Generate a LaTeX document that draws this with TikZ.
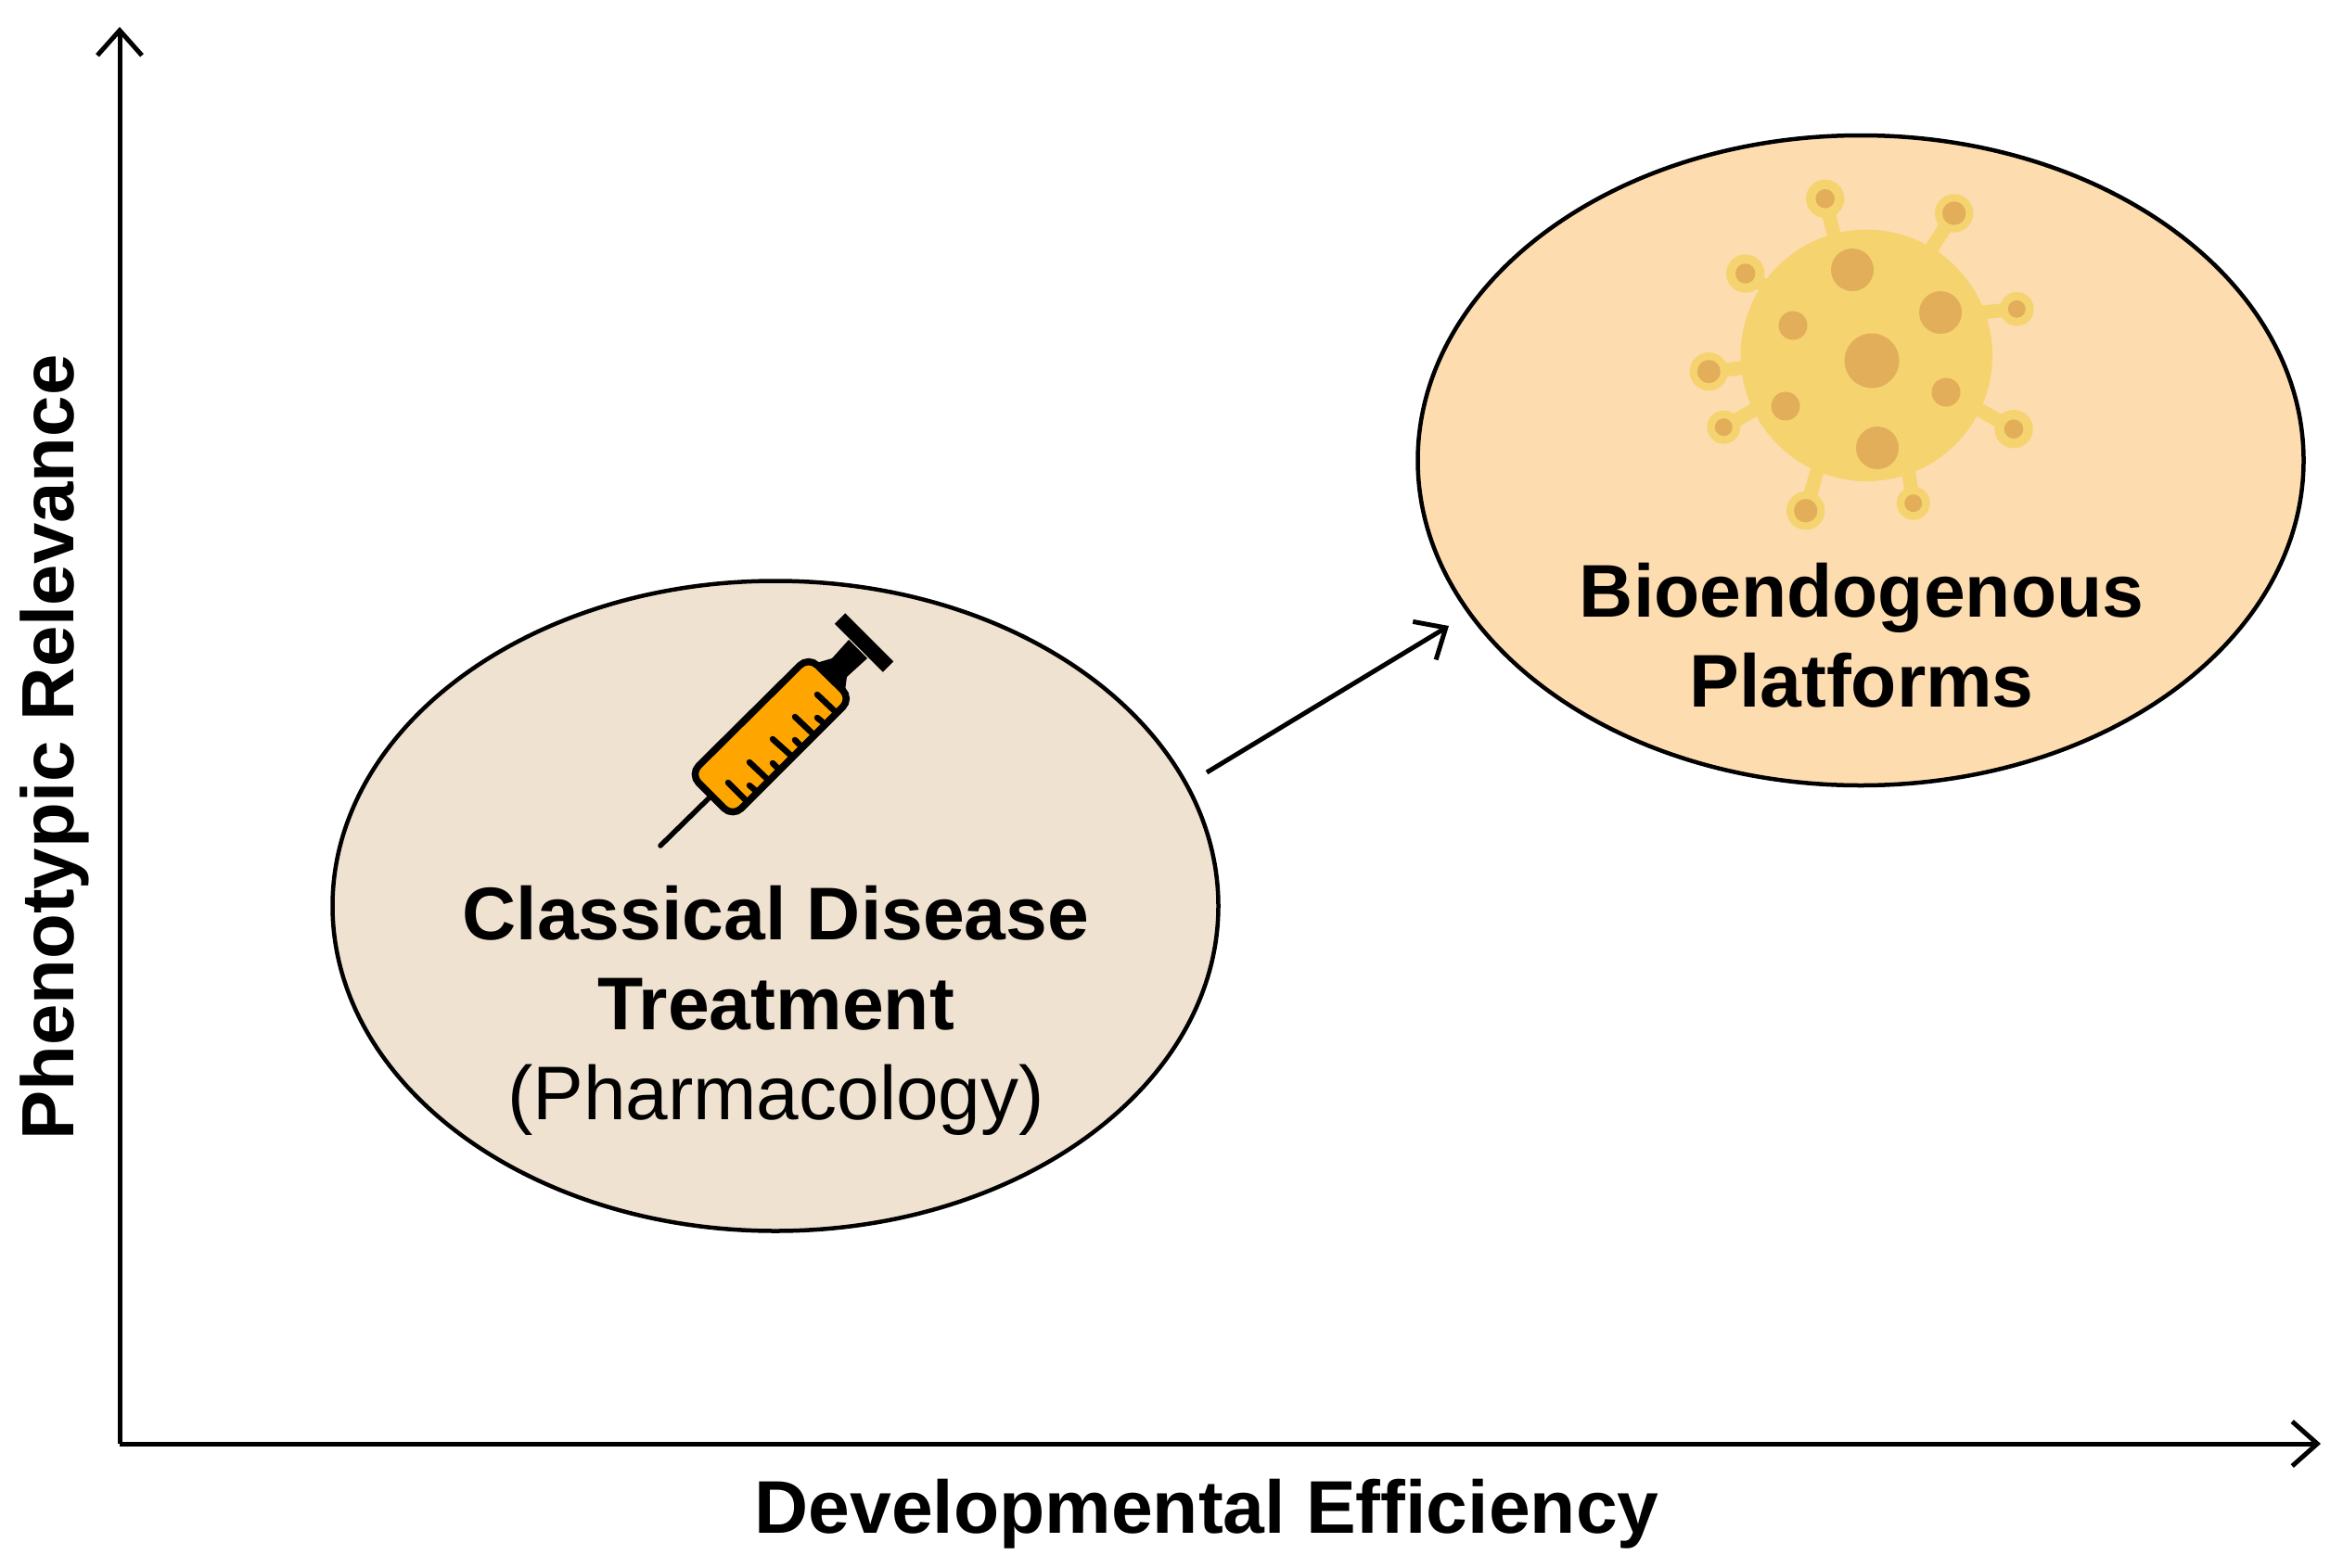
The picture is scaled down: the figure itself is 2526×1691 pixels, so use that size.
\documentclass[tikz,border=0pt]{standalone}
\usepackage{fontspec}
\setmainfont{Liberation Sans}
\usetikzlibrary{arrows.meta,shapes.geometric,calc}
\definecolor{classfill}{HTML}{EFE2D0}
\definecolor{biofill}{HTML}{FDDCB0}
\definecolor{virusA}{HTML}{F5D470}
\definecolor{virusB}{HTML}{E2AE5A}
\definecolor{orangeS}{HTML}{FFA500}
\tikzset{
  x=1pt,y=-1pt,
  blob/.style={ellipse,draw=black,line width=4.5pt,minimum width=955pt,minimum height=701pt,inner sep=0pt,outer sep=0pt},
  axis/.style={draw=black,line width=5pt,-{Straight Barb[length=27pt,width=48pt,line width=5pt]}},
  lbl/.style={align=center,text=black,inner sep=0pt},
  boldtxt/.style={font=\bfseries\fontsize{80.5}{97}\selectfont},
  vbody/.style={fill=virusA,draw=none},
  vspot/.style={fill=virusB,draw=none},
  stem/.style={draw=virusA,line width=15pt},
  tick/.style={draw=black,line width=6.5pt,line cap=round},
}
% base x, base y, head x, head y, head radius, inner radius
\newcommand{\spike}[6]{%
  \coordinate (sb) at (#1,#2);
  \coordinate (sh) at (#3,#4);
  \draw[stem] (sb) -- (sh);
  \fill[virusA] ($(sh)!#5*0.85pt!90:(sb)$) -- ($(sh)!#5*1pt+14pt!(sb)$) -- ($(sh)!#5*0.85pt!-90:(sb)$) -- cycle;
  \fill[virusA] (sh) circle[radius=#5];
  \fill[virusB] (sh) circle[radius=#6];}
\begin{document}
\begin{tikzpicture}
\useasboundingbox[fill=white] (0,0) rectangle (2526,1691);
% axes
\coordinate (origin) at (129,1557);
\coordinate (yend) at (129,29);
\coordinate (xend) at (2502,1557);
\draw[axis] (origin) -- (yend);
\draw[axis] (origin) -- (xend);
\node[lbl,font=\bfseries\fontsize{79.8}{97}\selectfont,rotate=90] (ylabel) at (59,806) {Phenotypic Relevance};
\node[lbl,boldtxt] (xlabel) at (1301,1633) {Developmental Efficiency};
% ellipses
\node[blob,fill=classfill] (classical) at (836,977) {};
\node[blob,fill=biofill] (bio) at (2006,496.5) {};
\coordinate (arrstart) at (1301,833);
\coordinate (arrend) at (1562,675);
\draw[axis] (arrstart) -- (arrend);
% syringe
\fill[black] (880,715) -- (897,710) -- (915,690) -- (935,710) -- (913,730) -- (911,745) -- cycle;
\draw[black,line width=16pt] (905.5,667) -- (957.5,719);
\draw[black,line width=5.5pt,line cap=round] (712,912) -- (765,860);
\draw[fill=orangeS,draw=black,line width=7.5pt,rounded corners=13pt] (871.7,708.3) -- (917.7,753.3) -- (790,881) -- (744,835) -- cycle;
\foreach \ax/\ay/\bx/\by in {785/844/803/862, 808/822/827/840, 833/797/853/815, 857/773/877/792, 881/749/900/767, 808/847/815/853, 833/823/838/828, 857/798/862/803, 881/774/886/778}
  \draw[tick] (\ax,\ay) -- (\bx,\by);
% virus
\spike{1980}{265}{1967.7}{214.3}{20.7}{10.3}
\spike{2078}{275}{2106.7}{230}{20.7}{12.7}
\spike{1905}{310}{1881.7}{295}{20.7}{10.7}
\spike{2125}{338}{2174.3}{333.3}{18.3}{9.5}
\spike{1895}{395}{1842.3}{400.7}{20.7}{12.5}
\spike{1900}{437}{1858.3}{460.7}{18}{9.5}
\spike{2125}{437}{2171}{462.7}{20.7}{10.3}
\spike{1962}{498}{1946.7}{550.7}{20.7}{12.7}
\spike{2056}{498}{2062.7}{542.7}{18}{9.5}
\fill[vbody] (2012.3,383.3) circle[radius=135.7];
\fill[vspot] (2018,389) circle[radius=29.5];
\fill[vspot] (1997,291) circle[radius=23];
\fill[vspot] (2092,337) circle[radius=23];
\fill[vspot] (1933,351) circle[radius=15.5];
\fill[vspot] (2098,423) circle[radius=15.5];
\fill[vspot] (1925,438) circle[radius=15.5];
\fill[vspot] (2024,483) circle[radius=23];
% labels
\node[lbl,font=\fontsize{80.5}{97}\selectfont] (classtext) at (836.5,1090) {\textbf{Classical Disease}\\\textbf{Treatment}\\{\fontsize{82}{97}\selectfont (Pharmacology)}};
\node[lbl,boldtxt] (biotext) at (2007,685) {Bioendogenous\\Platforms};
\end{tikzpicture}
\end{document}
